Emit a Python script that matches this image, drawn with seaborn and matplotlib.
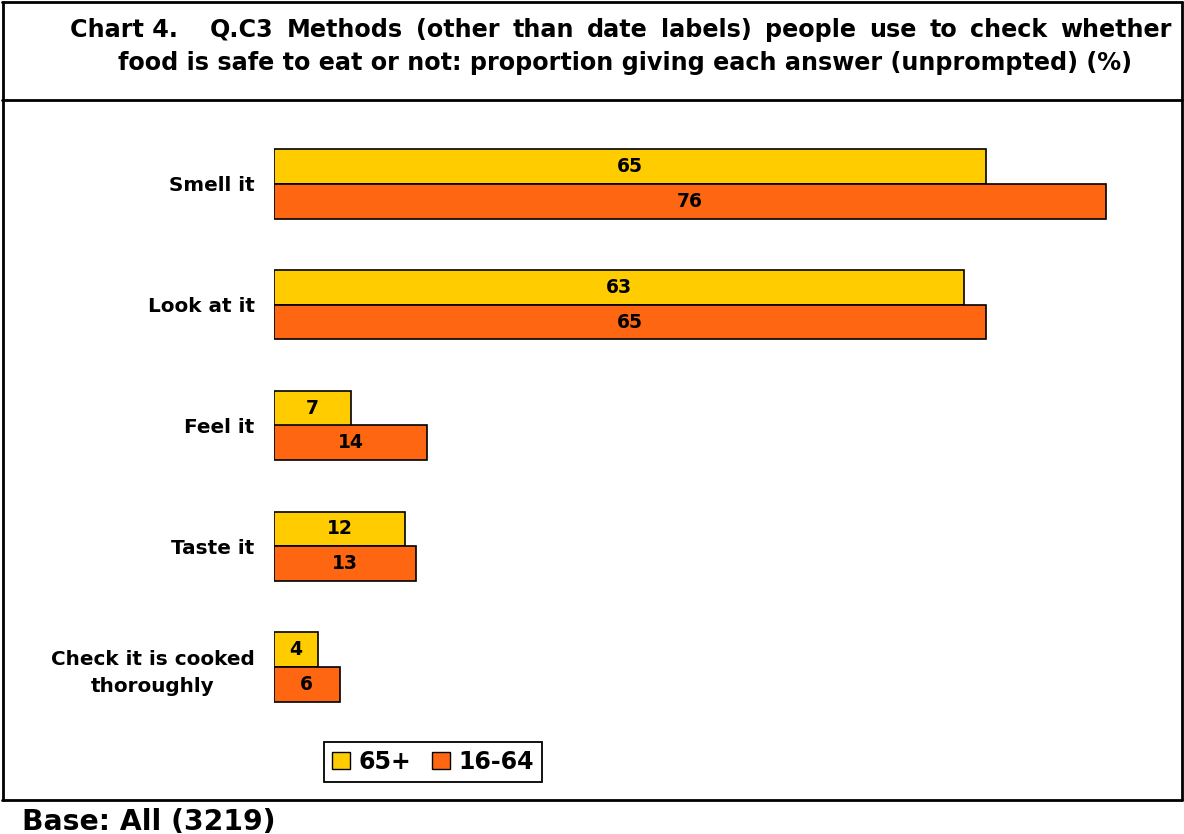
import matplotlib
matplotlib.use("Agg")
import matplotlib.pyplot as plt
import seaborn as sns
import pandas as pd
from matplotlib.lines import Line2D

# values
METHODS = ["Smell it", "Look at it", "Feel it", "Taste it", "Check it is cooked\nthoroughly"]
AGE_65_PLUS = [65, 63, 7, 12, 4]
AGE_16_64 = [76, 65, 14, 13, 6]
GROUPS = ["65+", "16-64"]

TITLE_LEAD = "Chart 4."
TITLE_1 = "Q.C3 Methods (other than date labels) people use to check whether"
TITLE_2 = "food is safe to eat or not: proportion giving each answer (unprompted) (%)"
BASE_TEXT = "Base: All (3219)"

COLORS = ["#FFCC00", "#FF6611"]

df = pd.DataFrame({
    "Method": METHODS * 2,
    "Value": AGE_65_PLUS + AGE_16_64,
    "Group": [GROUPS[0]] * len(METHODS) + [GROUPS[1]] * len(METHODS),
})

sns.set_theme(style="white")
plt.rcParams["font.family"] = ["DejaVu Sans"]
for key in ["text.color", "axes.labelcolor", "xtick.color", "ytick.color"]:
    plt.rcParams[key] = "black"

W, H = 1184, 834
fig = plt.figure(figsize=(W / 100, H / 100), dpi=100)

# axes placement in pixels: zero line at x=274, ~10.95 px per unit
px_unit = 712 / 65
ax_left, ax_right = 274, 274 + 80 * px_unit
pitch = 120.75
ax_top = 184 - 0.6 * pitch
ax_bot = 667 + 0.6 * pitch
ax = fig.add_axes([ax_left / W, 1 - ax_bot / H, (ax_right - ax_left) / W, (ax_bot - ax_top) / H])

sns.barplot(
    data=df, x="Value", y="Method", hue="Group", orient="h",
    palette=COLORS, width=0.572, edgecolor="black", linewidth=1.2,
    saturation=1, ax=ax, legend=True,
)
ax.set_xlim(0, 80)
ax.set_ylim(len(METHODS) - 0.4, -0.6)

for cont in ax.containers:
    ax.bar_label(cont, fmt="%d", label_type="center", fontsize=13.5, fontweight="bold")

for s in ax.spines.values():
    s.set_visible(False)
ax.set_xticks([])
ax.set_xlabel("")
ax.set_ylabel("")
ax.tick_params(axis="y", length=0, pad=14)
for t in ax.get_yticklabels():
    t.set_fontsize(14.4)
    t.set_fontweight("bold")
    t.set_multialignment("center")
    t.set_linespacing(1.55)

leg = ax.legend(
    loc="center", bbox_to_anchor=(433 / W, 1 - 762 / H), bbox_transform=fig.transFigure,
    ncol=2, frameon=True, fancybox=False, shadow=False,
    handlelength=0.75, handleheight=0.75, handletextpad=0.35, columnspacing=0.9,
    borderpad=0.35, prop={"weight": "bold", "size": 17},
)
leg.get_frame().set_edgecolor("black")
leg.get_frame().set_linewidth(1.3)
leg.get_frame().set_alpha(1)
for h in leg.legend_handles:
    h.set_edgecolor("black")
    h.set_linewidth(1.0)

# title: first line justified between x=210 and x=1172, second centered
title_size = 17.2
renderer = fig.canvas.get_renderer()
fig.text(70 / W, 1 - 37 / H, TITLE_LEAD, ha="left", va="baseline",
         fontsize=title_size, fontweight="bold")
words = TITLE_1.split()
word_txt = [fig.text(0, 1 - 37 / H, w, ha="left", va="baseline",
                     fontsize=title_size, fontweight="bold") for w in words]
widths = [t.get_window_extent(renderer).width for t in word_txt]
x0, x1 = 210, 1172
gap = (x1 - x0 - sum(widths)) / (len(words) - 1)
x = x0
for t, w in zip(word_txt, widths):
    t.set_x(x / W)
    x += w + gap
fig.text(625 / W, 1 - 70 / H, TITLE_2, ha="center", va="baseline",
         fontsize=title_size, fontweight="bold")

fig.text(22 / W, 1 - 830 / H, BASE_TEXT, ha="left", va="baseline",
         fontsize=20.3, fontweight="bold")

# frame lines
def hline(y, x0=2, x1=W - 2):
    fig.add_artist(Line2D([x0 / W, x1 / W], [1 - y / H, 1 - y / H], color="black", lw=2))

def vline(x, y0, y1):
    fig.add_artist(Line2D([x / W, x / W], [1 - y0 / H, 1 - y1 / H], color="black", lw=2))

hline(2)
hline(100)
hline(800)
vline(3, 2, 800)
vline(W - 2, 2, 800)

fig.savefig("out.png", dpi=100)
